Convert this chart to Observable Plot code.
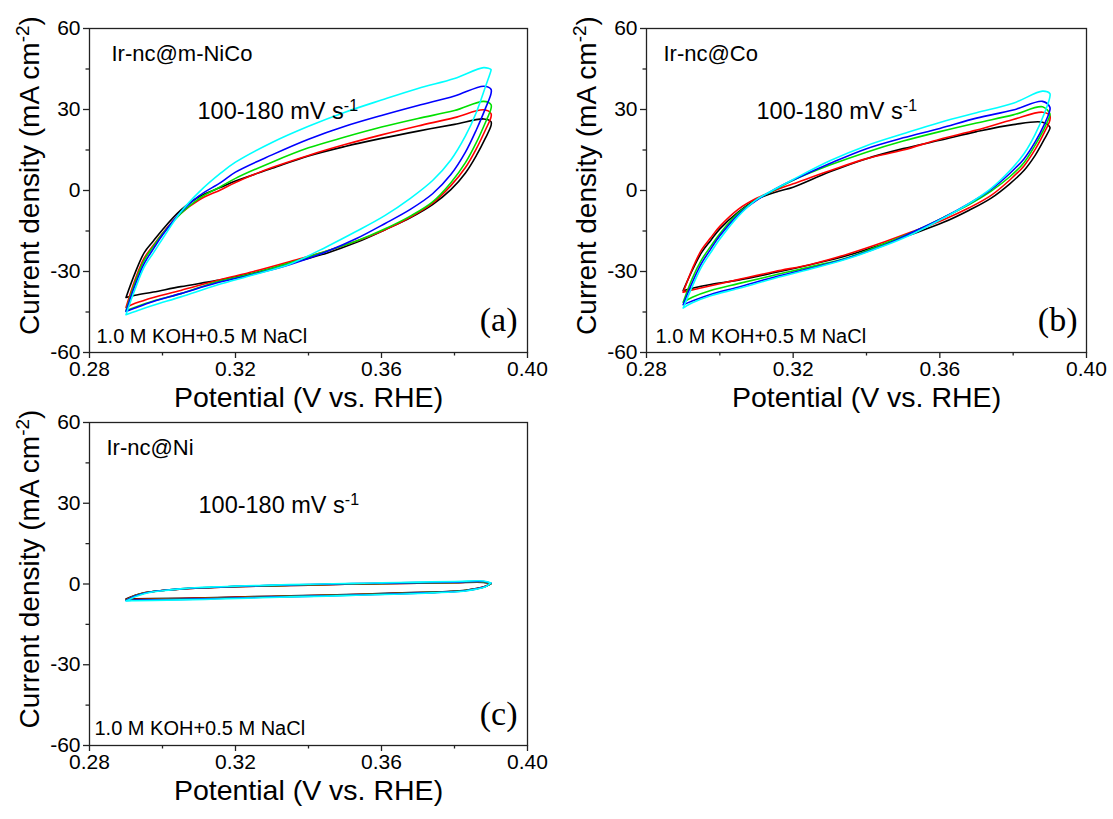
<!DOCTYPE html>
<html>
<head>
<meta charset="utf-8">
<script src="https://cdn.jsdelivr.net/npm/d3@7"></script>
<script src="https://cdn.jsdelivr.net/npm/@observablehq/plot@0.6"></script>
<style>
  html, body { margin: 0; padding: 0; background: #fff; }
  #wrap { position: relative; width: 1113px; height: 819px; background: #fff; overflow: hidden; }
  .panel { position: absolute; }
  .panel svg { display: block; overflow: visible; background: transparent; }
</style>
</head>
<body>
<div id="wrap">
  <div class="panel" id="pc" style="left:0px; top:394px;"></div>
  <div class="panel" id="pa" style="left:0px; top:0px;"></div>
  <div class="panel" id="pb" style="left:557px; top:0px;"></div>
</div>
<script>
// ---------- data ----------
// potential grid: anodic (forward) branch then cathodic (reverse) branch, V vs. RHE
const potentialUp = [0.29, 0.2925, 0.295, 0.2975, 0.30, 0.305, 0.31, 0.316, 0.32, 0.33, 0.34, 0.35, 0.36, 0.37, 0.38, 0.388, 0.39];
const potentialDown = [0.39, 0.3885, 0.386, 0.383, 0.379, 0.374, 0.368, 0.361, 0.353, 0.345, 0.335, 0.325, 0.315, 0.305, 0.2975, 0.2925, 0.29];

const scanRates = ["100", "120", "140", "160", "180"];
const scanColors = ["#000000", "#ff0000", "#00e000", "#0000ff", "#00ffff"];

// (a) Ir-nc@m-NiCo : forward branch values, then reverse branch values (mA cm-2)
const nicoBlack = [-39.6, -30.5, -23, -18.7, -14.5, -7.3, -2.3, 1.2, 3.5, 8.2, 12.8, 16.3, 19.3, 22, 24.5, 26.5, 25.5,
                   24, 19.5, 13, 6.5, 0.3, -5.2, -10, -14.5, -19.3, -23.2, -26.9, -30.6, -33.3, -35.6, -37.6, -38.8, -39.6];
const nicoRed   = [-43.3, -33, -25, -20.3, -15.8, -8.5, -3.5, 0.3, 3, 8.5, 13, 17, 20.6, 23.9, 27, 29.9, 28.5,
                   27.2, 22.5, 15.5, 8.5, 1.8, -4.7, -9.8, -14.5, -18.8, -22.4, -26.3, -30, -33.3, -37, -39.6, -41.8, -43.3];
const nicoGreen = [-44.5, -34, -25.8, -20.7, -16, -8.6, -3, 1.5, 4.5, 10.5, 15.8, 19.8, 23.5, 26.7, 29.6, 33, 31.8,
                   30.3, 25.3, 17.8, 10.3, 2.9, -4.2, -9.4, -14.2, -18.8, -22.4, -26.8, -30.7, -33.8, -38.2, -40.9, -43.2, -44.5];
const nicoBlue  = [-44.8, -35, -27, -21.6, -16.5, -8, -2, 3, 6.8, 13.2, 19, 23.8, 27.8, 31.5, 35, 38.6, 37.5,
                   35.9, 30.5, 22.5, 14.2, 5.9, -1.2, -6.9, -12.2, -17.9, -22.6, -27.4, -31, -34.2, -38.2, -41.1, -43.5, -44.8];
const nicoCyan  = [-46, -36.5, -28.3, -23.1, -17.9, -8, -0.6, 6.5, 10.5, 17.8, 23.8, 29, 33.5, 37.8, 41.5, 45.5, 44.8,
                   44.5, 38.5, 29, 20.2, 11.3, 3.7, -2.8, -9.2, -15.2, -20.8, -27.2, -31.2, -35, -39.4, -42.5, -44.8, -46];

// (b) Ir-nc@Co
const coBlack = [-37.1, -29.5, -23, -18.5, -14.2, -8, -3.3, -0.3, 1.2, 6.9, 11.8, 15.5, 18.6, 21.8, 24.4, 25.3, 23.5,
                 22.9, 19, 13, 7.5, 2.4, -2.8, -7.3, -11.8, -15.9, -19.6, -24, -27.4, -30.4, -33.2, -34.8, -36.2, -37.1];
const coRed   = [-37.7, -29, -22, -17.5, -13.3, -7, -2.9, 0.6, 2.5, 7.3, 11.8, 15, 19, 22.4, 26.3, 29, 27.8,
                 26, 21.5, 15.2, 9.2, 3.8, -1.8, -6.4, -10.8, -15, -19, -23.5, -27.3, -30, -33, -35.3, -36.8, -37.7];
const coGreen = [-41.4, -32.5, -25.7, -20.7, -16, -8.4, -3.5, 1, 3.8, 9.4, 14.2, 18.3, 21.8, 25, 28, 31, 28.5,
                 27.8, 23, 16.8, 10.4, 5, -0.2, -5.2, -10, -15.2, -19.6, -24.8, -28.2, -31.3, -34.5, -37, -39.5, -41.4];
const coBlue  = [-42.3, -34, -27, -21.7, -16.8, -9, -3.6, 1.2, 3.9, 10, 15.5, 19.5, 23, 26.8, 29.8, 33, 30.9,
                 29.7, 24.5, 18, 11.8, 6.2, 0.4, -4.8, -10, -15.2, -20.2, -25, -28.7, -32, -35.8, -38.5, -40.9, -42.3];
const coCyan  = [-43.5, -35.5, -28.3, -23, -18, -9.6, -3.4, 1.2, 4.1, 11, 16.6, 21, 25.2, 28.8, 32.3, 36.8, 35.9,
                 34.6, 28.5, 20.8, 13.7, 7.2, 0.8, -4.8, -10.2, -15.8, -20.4, -25.2, -29, -32.5, -36.3, -39, -41.6, -43.5];

// (c) Ir-nc@Ni
const niBlack = [-5.6, -4.2, -3.3, -2.8, -2.4, -1.9, -1.5, -1.2, -1.0, -0.7, -0.4, -0.1, 0.1, 0.3, 0.5, 0.6, 0.1,
                 0.1, -0.8, -1.7, -2.3, -2.7, -3.0, -3.2, -3.5, -3.8, -4.1, -4.4, -4.7, -5.0, -5.3, -5.4, -5.5, -5.6];
const niRed   = [-5.8, -4.3, -3.3, -2.8, -2.4, -1.9, -1.5, -1.2, -1.0, -0.7, -0.4, -0.1, 0.1, 0.3, 0.5, 0.7, 0.2,
                 0.2, -0.8, -1.7, -2.4, -2.8, -3.1, -3.3, -3.6, -3.9, -4.2, -4.5, -4.8, -5.1, -5.4, -5.6, -5.7, -5.8];
const niGreen = [-6.0, -4.4, -3.4, -2.8, -2.4, -1.8, -1.4, -1.1, -0.9, -0.6, -0.3, 0.0, 0.2, 0.4, 0.6, 0.8, 0.2,
                 0.2, -0.9, -1.8, -2.4, -2.8, -3.1, -3.4, -3.7, -4.0, -4.3, -4.6, -4.9, -5.3, -5.6, -5.8, -5.9, -6.0];
const niBlue  = [-6.1, -4.5, -3.4, -2.8, -2.4, -1.8, -1.4, -1.1, -0.9, -0.5, -0.2, 0.1, 0.3, 0.5, 0.7, 0.9, 0.3,
                 0.3, -0.9, -1.8, -2.5, -2.9, -3.2, -3.5, -3.8, -4.1, -4.4, -4.7, -5.0, -5.4, -5.7, -5.9, -6.0, -6.1];
const niCyan  = [-6.3, -4.7, -3.6, -2.9, -2.5, -1.8, -1.3, -1.0, -0.8, -0.4, -0.1, 0.2, 0.4, 0.7, 0.9, 1.1, 0.4,
                 0.4, -1.0, -1.9, -2.6, -3.0, -3.3, -3.6, -3.9, -4.2, -4.5, -4.8, -5.2, -5.6, -5.9, -6.1, -6.2, -6.3];

// ticks and labels
const xMajor = [0.28, 0.32, 0.36, 0.40];
const xMinor = [0.30, 0.34, 0.38];
const yMajor = [-60, -30, 0, 30, 60];
const yMinor = [-45, -15, 15, 45];
const xTitle = "Potential (V vs. RHE)";
const yTitle = "Current density (mA cm{-2})";
const rateLabel = "100-180 mV s{-1}";
const electrolyte = "1.0 M KOH+0.5 M NaCl";
const sampleNames = ["Ir-nc@m-NiCo", "Ir-nc@Co", "Ir-nc@Ni"];
const panelTags = ["(a)", "(b)", "(c)"];

// ---------- build ----------
const potentials = potentialUp.concat(potentialDown);
function rows(seriesList) {
  const out = [];
  seriesList.forEach((vals, k) => {
    vals.forEach((v, i) => out.push({x: potentials[i], y: v, rate: scanRates[k]}));
  });
  return out;
}

const SANS = "'Liberation Sans', Arial, Helvetica, sans-serif";
const SERIF = "'Liberation Serif', 'Times New Roman', serif";

function panel(opts) {
  const {width, height, mr, mb, data, name, tag, nameDx, rateDx, elecDx, elecDy, tagDx, tagDy} = opts;
  const ml = 89, mt = 28;
  return Plot.plot({
    width, height,
    marginLeft: ml, marginTop: mt, marginRight: mr, marginBottom: mb,
    style: {fontFamily: SANS, background: "transparent", color: "#000", overflow: "visible"},
    x: {domain: [0.28, 0.40]},
    y: {domain: [-60, 60]},
    color: {domain: scanRates, range: scanColors},
    marks: [
      Plot.axisX({ticks: xMajor, tickSize: 6, tickPadding: 3, tickFormat: d => d.toFixed(2),
                  fontSize: 21, label: null, stroke: "#222", strokeWidth: 1.3}),
      Plot.axisX({ticks: xMinor, tickSize: 3.5, tickFormat: () => "", label: null, stroke: "#222", strokeWidth: 1.3}),
      Plot.axisY({ticks: yMajor, tickSize: 6, tickPadding: 3, tickFormat: d => String(d),
                  fontSize: 21, label: null, stroke: "#222", strokeWidth: 1.3}),
      Plot.axisY({ticks: yMinor, tickSize: 3.5, tickFormat: () => "", label: null, stroke: "#222", strokeWidth: 1.3}),
      Plot.line(data, {x: "x", y: "y", z: "rate", stroke: "rate", strokeWidth: 1.6, curve: "catmull-rom"}),
      Plot.frame({stroke: "#222", strokeWidth: 1.3}),
      Plot.text([name], {frameAnchor: "top-left", textAnchor: "start", dx: nameDx, dy: 17, fontSize: 22, fill: "#000"}),
      Plot.text([rateLabel], {frameAnchor: "top-left", textAnchor: "start", dx: rateDx, dy: 74, fontSize: 23.5, fill: "#000"}),
      Plot.text([electrolyte], {frameAnchor: "bottom-left", textAnchor: "start", dx: elecDx, dy: elecDy, fontSize: 20, fill: "#000"}),
      Plot.text([tag], {frameAnchor: "bottom-right", textAnchor: "end", dx: tagDx, dy: tagDy, fontSize: 34, fontFamily: SERIF, fill: "#000"}),
      Plot.text([xTitle], {frameAnchor: "bottom", textAnchor: "middle", dy: 54, fontSize: 28.5, fill: "#000"}),
      Plot.text([yTitle], {frameAnchor: "left", textAnchor: "middle", rotate: -90, dx: -59, dy: -15, fontSize: 28, fill: "#000"})
    ]
  });
}

function applySup(svg) {
  svg.querySelectorAll("text").forEach(t => {
    if (t.querySelector("tspan")) return;
    const s = t.textContent;
    if (!/\{[^}]*\}/.test(s)) return;
    const parts = s.split(/(\{[^}]*\})/);
    t.textContent = "";
    for (const p of parts) {
      if (!p) continue;
      const ts = document.createElementNS("http://www.w3.org/2000/svg", "tspan");
      if (p.startsWith("{")) {
        ts.textContent = p.slice(1, -1);
        ts.setAttribute("baseline-shift", "super");
        ts.setAttribute("font-size", "68%");
      } else ts.textContent = p;
      t.appendChild(ts);
    }
  });
}

const A = panel({width: 560, height: 410, mr: 33, mb: 58,
  data: rows([nicoBlack, nicoRed, nicoGreen, nicoBlue, nicoCyan]),
  name: sampleNames[0], tag: panelTags[0], nameDx: 22, rateDx: 108, elecDx: 7, elecDy: -10, tagDx: -10, tagDy: -22});
const B = panel({width: 556, height: 410, mr: 27, mb: 58,
  data: rows([coBlack, coRed, coGreen, coBlue, coCyan]),
  name: sampleNames[1], tag: panelTags[1], nameDx: 17, rateDx: 110, elecDx: 9, elecDy: -10, tagDx: -9, tagDy: -22});
const C = panel({width: 560, height: 425, mr: 33, mb: 74,
  data: rows([niBlack, niRed, niGreen, niBlue, niCyan]),
  name: sampleNames[2], tag: panelTags[2], nameDx: 17, rateDx: 109, elecDx: 5, elecDy: -11, tagDx: -10, tagDy: -21});

[A, B, C].forEach(applySup);
document.getElementById("pa").appendChild(A);
document.getElementById("pb").appendChild(B);
document.getElementById("pc").appendChild(C);
</script>
</body>
</html>
